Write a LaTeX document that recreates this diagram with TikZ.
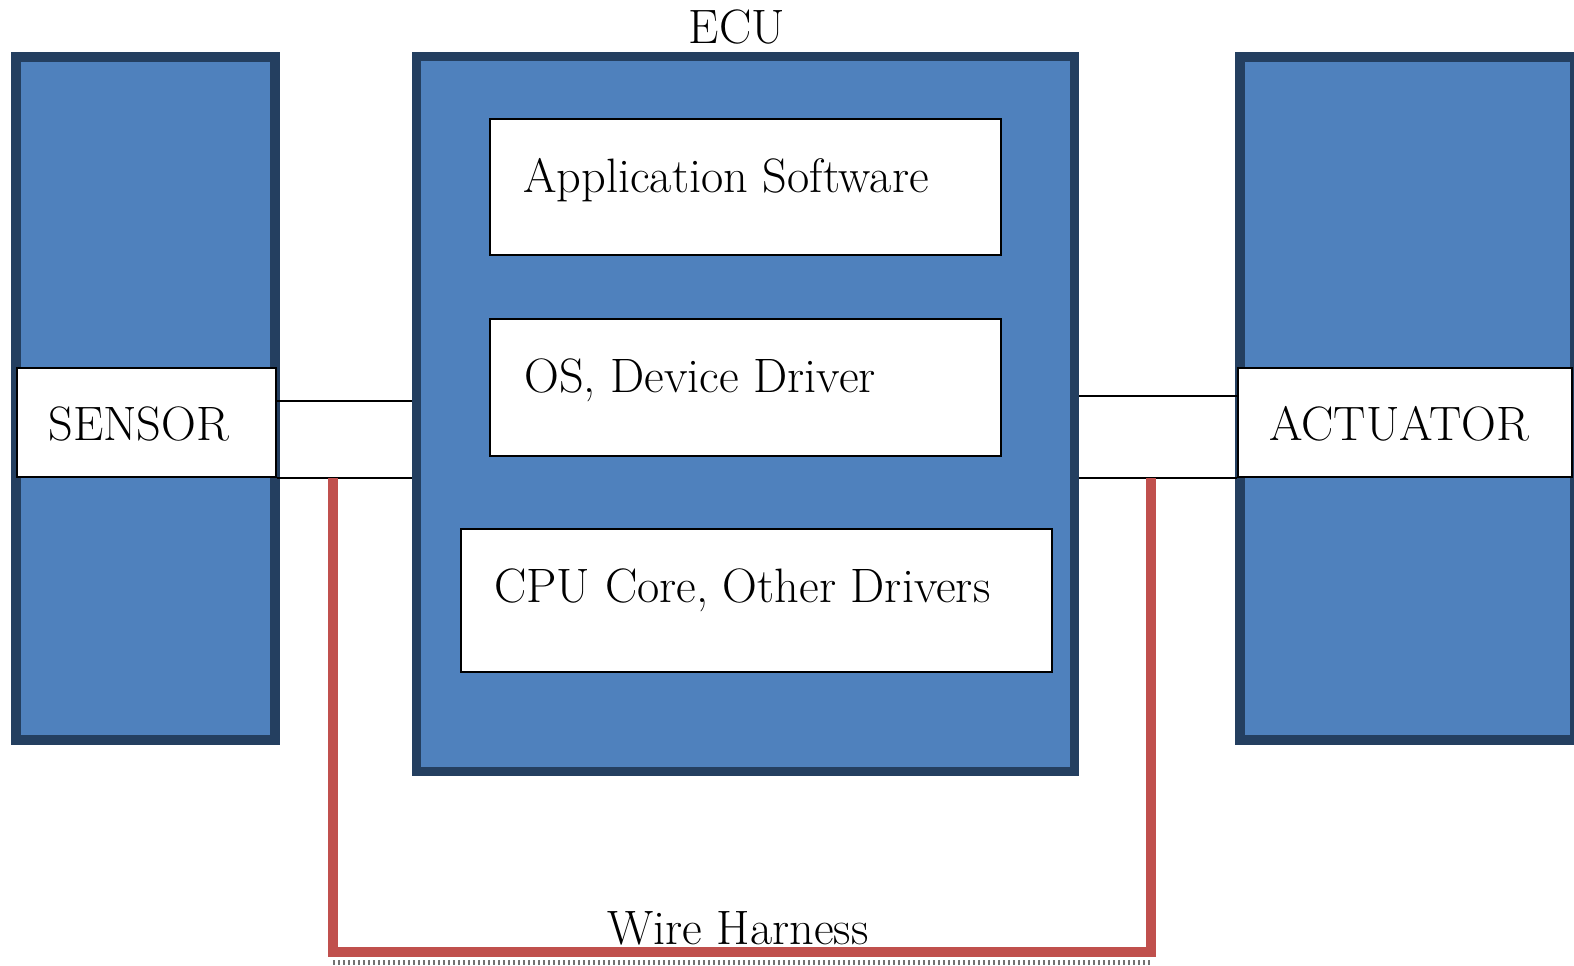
\documentclass[tikz,border=0pt]{standalone}
\usepackage{tikz}
\usetikzlibrary{calc}

\definecolor{blockfill}{HTML}{4F81BD}
\definecolor{blockline}{HTML}{243F60}
\definecolor{wirered}{HTML}{C0504D}

\tikzset{
	block/.style={draw=blockline, fill=blockfill, line width=0.2cm, inner sep=0pt},
	layer/.style={draw=black, fill=white, line width=0.04cm, inner sep=0pt},
	lbl/.style={inner sep=0pt, font=\fontsize{27.5}{33}\selectfont},
	link/.style={draw=black, line width=0.04cm},
	wire/.style={draw=wirered, line width=0.2cm},
}

\begin{document}
\begin{tikzpicture}[x=0.02cm, y=-0.02cm]
	%\draw [help lines] (0,0) grid (1574,966);
	\useasboundingbox (0,0) rectangle (1574,966);
	\node [block, minimum width=5.18cm, minimum height=13.66cm] (sensor) at (145.5,398.5) {};
	\node [block, line width=0.18cm, minimum width=13.17cm, minimum height=14.3cm] (ecu) at (745.75,414) {};
	\node [block, minimum width=6.7cm, minimum height=13.66cm] (actuator) at (1407.5,398.5) {};
	\node [lbl, anchor=base] (ecuname) at (737,44) {ECU};

	\node [layer, minimum width=10.22cm, minimum height=2.72cm] (app) at (745.5,187) {};
	\node [layer, minimum width=10.22cm, minimum height=2.74cm] (os) at (745.5,387.5) {};
	\node [layer, minimum width=11.82cm, minimum height=2.86cm] (cpu) at (756.5,600.5) {};
	\node [lbl, anchor=base west] (apptext) at (523,193) {Application Software};
	\node [lbl, anchor=base west] (ostext) at (524,392) {OS, Device Driver};
	\node [lbl, anchor=base west] (cputext) at (494,602) {CPU Core, Other Drivers};

	\node [layer, minimum width=5.18cm, minimum height=2.18cm] (sensorlbl) at (146.5,422.5) {};
	\node [layer, minimum width=6.68cm, minimum height=2.18cm] (actlbl) at (1405,422.5) {};
	\node [lbl, anchor=base west] (sensortext) at (48,440) {SENSOR};
	\node [lbl, anchor=base west] (acttext) at (1269,440) {ACTUATOR};

	\coordinate (s1) at ([yshift=-0.68cm]sensorlbl.north east);
	\coordinate (a1) at ([yshift=-0.58cm]actlbl.north west);
	\draw [link] (s1) -- (s1 -| ecu.west);
	\draw [link] (sensorlbl.south east) -- (sensorlbl.south east -| ecu.west);
	\draw [link] (a1) -- (a1 -| ecu.east);
	\draw [link] (actlbl.south west) -- (actlbl.south west -| ecu.east);

	\coordinate (w1) at ([xshift=1.12cm]sensorlbl.south east);
	\coordinate (w2) at ([xshift=-1.72cm]actlbl.south west);
	\draw [wire] (w1) -- ++(0,474) -| (w2);
	\draw [black!55, line width=0.1cm, dash pattern=on 0.05cm off 0.05cm] ($(w1)+(0,484)$) -- ($(w2)+(0,484)$);
	\node [lbl, anchor=base] (harness) at (738,944) {Wire Harness};
\end{tikzpicture}
\end{document}
